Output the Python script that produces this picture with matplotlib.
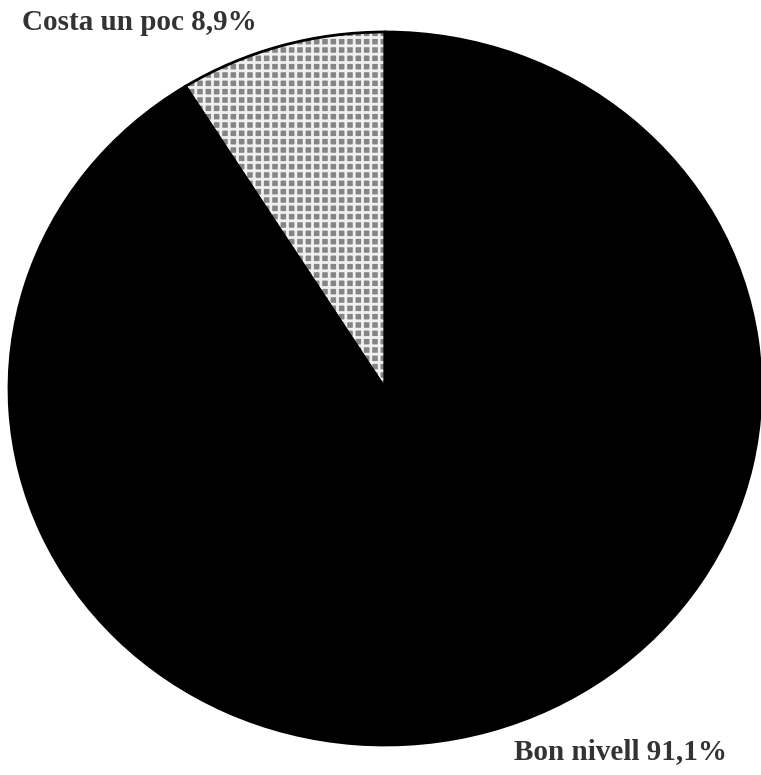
import matplotlib.pyplot as plt

# data
labels = ["Costa un poc", "Bon nivell"]
shares = [8.9, 91.1]
label_text = ["Costa un poc 8,9%", "Bon nivell 91,1%"]

plt.rcParams["hatch.linewidth"] = 2.0

fig = plt.figure(figsize=(7.61, 7.75), dpi=100)
ax = fig.add_axes([9 / 761, 30 / 775, 752 / 761, 713 / 775])

# filled wedges; the hatch takes the edge colour, so the small slice gets white mesh
wedges, _ = ax.pie(
    shares,
    startangle=90,
    counterclock=True,
    colors=["#858585", "black"],
    radius=1.0,
    wedgeprops={"linewidth": 0},
)
wedges[0].set_edgecolor("#f0f0f0")
wedges[0].set_hatch("++")
wedges[1].set_edgecolor("black")

# black outline on top
outline, _ = ax.pie(
    shares,
    startangle=90,
    counterclock=True,
    colors=["none", "none"],
    radius=1.0,
    wedgeprops={"linewidth": 2.0, "edgecolor": "black", "fill": False},
)

ax.set_xlim(-1.0, 1.0)
ax.set_ylim(-1.0, 1.0)
ax.set_aspect("auto")
ax.axis("off")

fig.text(22 / 761, 1 - 23 / 775, label_text[0], ha="left", va="center",
         family="Liberation Serif", fontsize=21, fontweight="bold", color="#333333")
fig.text(514 / 761, 1 - 752 / 775, label_text[1], ha="left", va="center",
         family="Liberation Serif", fontsize=21, fontweight="bold", color="#333333")

fig.savefig("out.png", dpi=100)
plt.close(fig)
